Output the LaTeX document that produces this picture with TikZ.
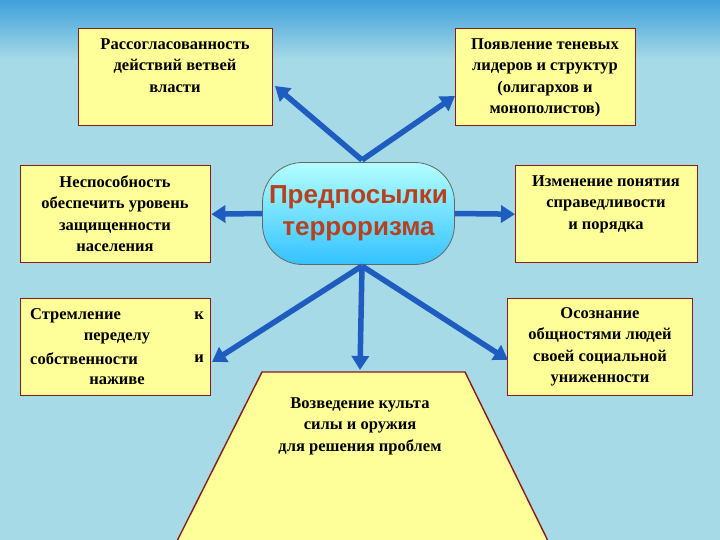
\documentclass[tikz,border=0pt]{standalone}
\usepackage{fontspec}
\setmainfont{Liberation Serif}
\newfontfamily\sansb{Liberation Sans}
\usetikzlibrary{arrows.meta}
\definecolor{bg}{HTML}{A6DAE6}
\definecolor{bgtop}{HTML}{3FA0DC}
\definecolor{boxy}{HTML}{FFFF99}
\definecolor{boxr}{HTML}{8B1A1A}
\definecolor{arr}{HTML}{1E5CC0}
\definecolor{ttl}{HTML}{B8401E}
\tikzset{
 box/.style={draw=boxr,line width=1.4pt,fill=boxy,inner sep=0pt},
 txt/.style={font=\bfseries\fontsize{16.5}{21.5}\selectfont,align=center,anchor=north,inner sep=0pt},
 ln/.style={font=\bfseries\fontsize{16.5}{21.5}\selectfont,inner sep=0pt},
 arw/.style={draw=arr,line width=5.5pt,-{Triangle[width=17pt,length=14pt]}},
}
\begin{document}
\begin{tikzpicture}[x=1pt,y=-1pt]
\useasboundingbox (0,0) rectangle (720,540);
\fill[bg] (0,0) rectangle (720,540);
\shade[top color=bgtop,bottom color=bg] (0,0) rectangle (720,60);
% center
\node[draw=black!60,line width=0.8pt,rounded corners=40pt,top color=cyan!30,bottom color=cyan!70!blue!80,minimum width=192pt,minimum height=102pt,font=\sansb\bfseries\fontsize{26}{32}\selectfont,text=ttl,align=center] (c) at (358.5,213.5) {Предпосылки\\терроризма};
\coordinate (ct) at (362,160);
\coordinate (cb) at (362,266);
% boxes
\node[box,minimum width=194pt,minimum height=97pt,anchor=north west] (b1) at (78,28) {};
\node[txt] (t1) at (175,38) {Рассогласованность\\действий ветвей\\власти};
\node[box,minimum width=180pt,minimum height=97pt,anchor=north west] (b2) at (455,28) {};
\node[txt] (t2) at (545,38) {Появление теневых\\лидеров и структур\\(олигархов и\\монополистов)};
\node[box,minimum width=190pt,minimum height=97pt,anchor=north west] (b3) at (20,165) {};
\node[txt] (t3) at (115,175) {Неспособность\\обеспечить уровень\\защищенности\\населения};
\node[box,minimum width=190pt,minimum height=97pt,anchor=north west] (b4) at (20,298) {};
\node[ln,anchor=west] (t4a) at (30,316) {Стремление};
\node[ln] (t4e) at (117,338) {переделу};
\node[ln,anchor=west] (t4b) at (30,359) {собственности};
\node[ln] (t4f) at (117,381) {наживе};
\node[ln,anchor=east] (t4c) at (204,316) {к};
\node[ln,anchor=east] (t4d) at (204,359) {и};
\node[box,minimum width=182pt,minimum height=97pt,anchor=north west] (b5) at (515,165) {};
\node[txt] (t5) at (606,175) {Изменение понятия\\справедливости\\и порядка};
\node[box,minimum width=185pt,minimum height=97pt,anchor=north west] (b6) at (507,298) {};
\node[txt] (t6) at (600,307) {Осознание\\общностями людей\\своей социальной\\униженности};
% trapezoid
\draw[boxr,line width=1.4pt,fill=boxy] (262,372) -- (465,372) -- (550,545) -- (175,545) -- cycle;
\node[txt] (t7) at (360,397) {Возведение культа\\силы и оружия\\для решения проблем};
\coordinate (p1) at (275,86);
\coordinate (p2) at (455,96);
\coordinate (p7) at (360,370);
\coordinate (p4) at (212,362);
\coordinate (p6) at (508,360);
% arrows
\draw[arw] (ct) -- (p1);
\draw[arw] (ct) -- (p2);
\draw[arw] (c.west) -- (b3.east);
\draw[arw] (c.east) -- (b5.west);
\draw[arw] (cb) -- (p4);
\draw[arw] (cb) -- (p7);
\draw[arw] (cb) -- (p6);
\end{tikzpicture}
\end{document}
